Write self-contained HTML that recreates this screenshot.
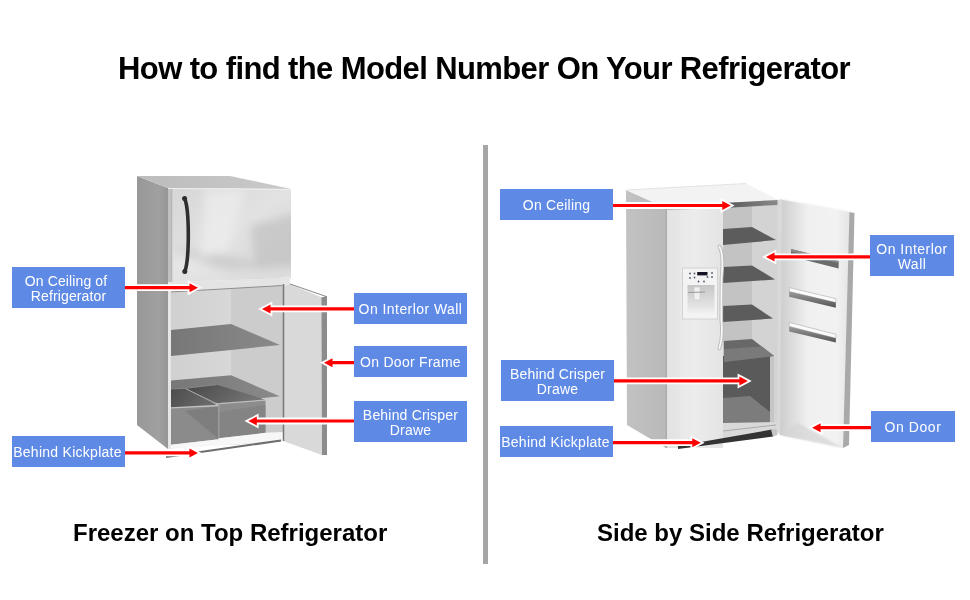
<!DOCTYPE html>
<html><head><meta charset="utf-8">
<style>
html,body{margin:0;padding:0;background:#fff;}
#page{position:relative;width:970px;height:600px;overflow:hidden;background:#fff;font-family:"Liberation Sans",sans-serif;}
svg{position:absolute;left:0;top:0;}
.t{will-change:transform;position:absolute;white-space:nowrap;color:#000;font-weight:bold;}
.box{will-change:transform;position:absolute;background:#5e8ae5;color:#fff;font-size:14px;line-height:15px;text-align:center;display:flex;flex-direction:column;justify-content:center;align-items:center;}
.box span{display:block;white-space:nowrap;}
</style></head><body>
<div id="page">
<svg width="970" height="600" viewBox="0 0 970 600">
<defs>
  <linearGradient id="lside" x1="0" x2="1" y1="0" y2="0"><stop offset="0" stop-color="#989898"/><stop offset="0.7" stop-color="#a0a0a0"/><stop offset="1" stop-color="#969696"/></linearGradient>
  <linearGradient id="ltop" x1="0" x2="1"><stop offset="0" stop-color="#bcbcbc"/><stop offset="1" stop-color="#cacaca"/></linearGradient>
  <linearGradient id="lfz" x1="0" x2="1" y1="0" y2="1"><stop offset="0" stop-color="#d6d6d6"/><stop offset="0.5" stop-color="#e2e2e2"/><stop offset="1" stop-color="#d4d4d4"/></linearGradient>
  <linearGradient id="lback" x1="0" x2="1"><stop offset="0" stop-color="#d0d0d0"/><stop offset="1" stop-color="#dedede"/></linearGradient>
  <linearGradient id="lshelf" x1="0" x2="1"><stop offset="0" stop-color="#777"/><stop offset="1" stop-color="#8a8a8a"/></linearGradient>
  <linearGradient id="rside" x1="0" x2="1"><stop offset="0" stop-color="#c2c2c2"/><stop offset="1" stop-color="#b9b9b9"/></linearGradient>
  <linearGradient id="rdoor" x1="0" x2="1"><stop offset="0" stop-color="#cdcdcd"/><stop offset="0.4" stop-color="#f0f0f0"/><stop offset="0.8" stop-color="#f2f2f2"/><stop offset="1" stop-color="#e4e4e4"/></linearGradient>
  <clipPath id="fzclip"><polygon points="168,188 291,189 291,278 168,282"/></clipPath>
  <filter id="blur3" x="-20%" y="-20%" width="140%" height="140%"><feGaussianBlur stdDeviation="4"/></filter>
  <filter id="blur1" x="-20%" y="-20%" width="140%" height="140%"><feGaussianBlur stdDeviation="1"/></filter>
  <linearGradient id="rbev" x1="0" x2="1"><stop offset="0" stop-color="#e2e2e2"/><stop offset="1" stop-color="#e6e6e6"/></linearGradient>
  <linearGradient id="recess" x1="0" x2="0" y1="0" y2="1"><stop offset="0" stop-color="#c6c6c6"/><stop offset="0.7" stop-color="#e2e2e2"/><stop offset="1" stop-color="#f2f2f2"/></linearGradient>
  <linearGradient id="ceil" x1="0" x2="1"><stop offset="0" stop-color="#555"/><stop offset="1" stop-color="#8a8a8a"/></linearGradient>
  <linearGradient id="fzface" x1="0" x2="1"><stop offset="0" stop-color="#e6e6e6"/><stop offset="0.5" stop-color="#ececec"/><stop offset="1" stop-color="#e4e4e4"/></linearGradient>
  <linearGradient id="dopen1" x1="0" x2="1" y1="0" y2="0.3"><stop offset="0" stop-color="#4c4c4c"/><stop offset="1" stop-color="#6c6c6c"/></linearGradient>
  <linearGradient id="dopen2" x1="0" x2="1" y1="0" y2="0.3"><stop offset="0" stop-color="#474747"/><stop offset="1" stop-color="#747474"/></linearGradient>
  <linearGradient id="bin" x1="0" x2="0" y1="0" y2="1"><stop offset="0" stop-color="#9a9a9a"/><stop offset="1" stop-color="#555555"/></linearGradient>
</defs>

<!-- divider -->
<rect x="483" y="145" width="5" height="419" fill="#a6a6a6"/>

<!-- ===== LEFT FRIDGE ===== -->
<polygon points="137,176 168,188 168,449 137,425" fill="url(#lside)"/>
<polygon points="137,176 230,176 291,189 168,188" fill="url(#ltop)"/>
<polygon points="168,188 291,189 291,278 168,282" fill="url(#lfz)"/>
<g clip-path="url(#fzclip)"><g filter="url(#blur3)">
<polygon points="250,226 300,212 300,282 258,282" fill="#bcbcbc" opacity="0.6"/>
<polygon points="172,246 290,268 290,282 240,282" fill="#c2c2c2" opacity="0.6"/>
<polygon points="205,190 245,190 228,250 200,258" fill="#eeeeee" opacity="0.7"/>
<polygon points="172,258 232,270 172,282" fill="#e8e8e8" opacity="0.7"/>
<polygon points="168,272 300,266 300,282 168,286" fill="#e2e2e2" opacity="0.8"/>
</g></g>
<rect x="168" y="188" width="4" height="94" fill="#c0c0c0"/>
<line x1="171.8" y1="189" x2="171.8" y2="282" stroke="#b0b0b0" stroke-width="0.8"/>
<line x1="168" y1="188.5" x2="291" y2="189.5" stroke="#eeeeee" stroke-width="1"/>
<path d="M184.7,198.5 C187.3,205 188.3,214 188.3,235 C188.3,256 187.3,265 184.8,271.5" stroke="#2e2e2e" stroke-width="3.6" fill="none" stroke-linecap="round"/>
<circle cx="184.6" cy="198.4" r="2.5" fill="#2e2e2e"/><circle cx="184.8" cy="271.4" r="2.5" fill="#2e2e2e"/>
<!-- interior -->
<polygon points="170,292 283,285 283,441 170,448" fill="url(#lback)"/>
<polygon points="231,288 283,285 283,441 231,445" fill="#cccccc"/>
<polygon points="168,282 291,278 283,285 170,292" fill="#e4e4e4"/>
<line x1="170" y1="292" x2="283" y2="285.5" stroke="#8e8e8e" stroke-width="1"/>
<rect x="168" y="290" width="3" height="159" fill="#e6e6e6"/>
<polygon points="171,330 231,324 280,345 171,356" fill="url(#lshelf)"/>
<polygon points="171,380.5 231,375.3 279.8,396.3 171,408" fill="url(#lshelf)"/>
<!-- crisper drawers -->
<polygon points="171,389 185.2,388.4 218.8,406 171,408" fill="url(#dopen1)"/>
<polygon points="185.2,388.4 216.6,384.7 259.9,397.7 265.3,400.3 218.8,403.8" fill="url(#dopen2)"/>
<line x1="185.2" y1="388.4" x2="218.8" y2="405" stroke="#a8a8a8" stroke-width="1"/>
<line x1="171" y1="389" x2="185.2" y2="388.4" stroke="#8a8a8a" stroke-width="0.8"/>
<line x1="185.2" y1="388.4" x2="216.6" y2="384.7" stroke="#8a8a8a" stroke-width="0.8"/>
<polygon points="171,408 218.8,405.7 218.8,439.3 171,444.7" fill="#8b8b8b"/>
<polygon points="185,411 218.8,406 218.8,439.3" fill="#7b7b7b" opacity="0.8"/>
<polygon points="218.8,403.8 265.5,400.3 265.5,432.8 218.8,438.2" fill="#8c8c8c"/>
<polygon points="218.8,412 265.5,405 265.5,432.8 218.8,438.2" fill="#7e7e7e" opacity="0.6"/>
<line x1="171" y1="407.8" x2="218.8" y2="405.5" stroke="#c2c2c2" stroke-width="1.3"/>
<line x1="218.8" y1="403.6" x2="265.5" y2="400.1" stroke="#bcbcbc" stroke-width="1.3"/>
<line x1="218.8" y1="404" x2="218.8" y2="439" stroke="#a2a2a2" stroke-width="1.2"/>
<polygon points="171,444.7 218.8,439.3 218.8,438.2 265.5,432.8 283,432 283,441 171,449" fill="#f7f7f7"/>
<line x1="166" y1="457" x2="281" y2="440.5" stroke="#6e6e6e" stroke-width="2"/>
<!-- open door -->
<polygon points="283,286 289.5,284 322,297.5 322,455 283,441" fill="#d9d9d9"/>
<polygon points="321.5,297.5 327,296 327,455 322,455" fill="#8c8c8c"/>
<line x1="289.5" y1="283.8" x2="326.5" y2="296.6" stroke="#8a8a8a" stroke-width="1"/>
<polygon points="281,277 290,276 290,284 284,286 281,285" fill="#e6e6e6"/>
<line x1="283.5" y1="284" x2="283.5" y2="441" stroke="#777" stroke-width="1.5"/>

<!-- ===== RIGHT FRIDGE ===== -->
<polygon points="626,190 655,203 666,208 666,448 627,425" fill="url(#rside)"/>
<polygon points="626,190 746,183.5 779,200 666,208 655,203" fill="#f3f3f3"/>
<line x1="626" y1="190" x2="746" y2="183.5" stroke="#dddddd" stroke-width="0.8"/>
<polygon points="666,209 723,207 723,448 666,448" fill="url(#fzface)"/>
<polygon points="666,209 680,208.5 680,448 666,448" fill="url(#rbev)"/>
<line x1="666.3" y1="209" x2="666.3" y2="448" stroke="#9c9c9c" stroke-width="1"/>
<line x1="666" y1="209.5" x2="723" y2="207.5" stroke="#b8b8b8" stroke-width="1"/>
<!-- dispenser -->
<rect x="682.5" y="268" width="35" height="51" fill="#f3f3f3" stroke="#d2d2d2" stroke-width="1"/>
<rect x="687.5" y="285" width="27" height="29" fill="url(#recess)"/>
<rect x="697.2" y="272" width="10.3" height="3.4" fill="#141424"/>
<g fill="#555a70"><circle cx="690" cy="273.5" r="0.9"/><circle cx="694.5" cy="273.5" r="0.9"/><circle cx="712" cy="273" r="0.9"/><circle cx="690" cy="278" r="0.9"/><circle cx="694.5" cy="277.5" r="0.9"/><circle cx="707.5" cy="277" r="0.9"/><circle cx="712" cy="277" r="0.9"/><circle cx="698.5" cy="281.5" r="0.9"/><circle cx="704" cy="281.5" r="0.9"/></g>
<rect x="694" y="287" width="6" height="13" fill="#f0f0f0" stroke="#c8c8c8" stroke-width="0.6"/>
<line x1="688" y1="292.5" x2="705" y2="292" stroke="#9a9a9a" stroke-width="1.2"/>
<!-- interior -->
<polygon points="723,203 778,201 778,432 723,440" fill="#c3c3c3"/>
<polygon points="752,202 778,201 778,432 752,436" fill="#d3d3d3"/>
<polygon points="723,203 778,200 778,205 723,208" fill="url(#ceil)"/>
<polygon points="723,229 752,227 776,240 723,245" fill="#5c5c5c"/>
<polygon points="723,267 752,265.5 775,279.5 723,283" fill="#5c5c5c"/>
<polygon points="723,306 752,304.5 773,318.5 723,322" fill="#5c5c5c"/>
<polygon points="723,356 770,355 770,423 723,423" fill="#5a5a5a"/>
<polygon points="723,398 750,396 770,412 770,423 723,423" fill="#7c7c7c"/>
<polygon points="770,355 774,355 774,425 770,425" fill="#c6c6c6"/>
<polygon points="724,341 752,339 774,356 724,362" fill="#686868"/>
<polygon points="724,349 762,346.5 774,356 724,362" fill="#7a7a7a"/>
<polygon points="723,423 778,422 778,432 723,440" fill="#d9d9d9"/>
<line x1="723" y1="431" x2="776" y2="425" stroke="#aaaaaa" stroke-width="1"/>
<!-- handle -->
<path d="M719.3,246.5 C722.8,252 723.2,262 721.5,278 L721.3,320 C722.8,332 721.5,342 719.3,348.5" stroke="#b9b9b9" stroke-width="3.6" fill="none" stroke-linecap="round"/>
<path d="M719.3,246.5 C722.8,252 723.2,262 721.5,278 L721.3,320 C722.8,332 721.5,342 719.3,348.5" stroke="#f7f7f7" stroke-width="1.8" fill="none" stroke-linecap="round"/>
<polygon points="678,446 772,429.5 773,436.5 678,449" fill="#333333"/>
<polygon points="771,429.7 776,429 777.5,431 777.5,435 773,436.5" fill="#c4c4c4"/>
<polygon points="777.5,200 782.5,199 780.5,435.5 777.5,432" fill="#d9d9d9"/>
<!-- open right door -->
<polygon points="782,199 850,211.5 843,448 780,435" fill="url(#rdoor)"/>
<line x1="782" y1="199" x2="850" y2="211.5" stroke="#f8f8f8" stroke-width="1.5"/>
<polygon points="849.5,212 854.5,213 849,445 843,448" fill="#a9a9a9"/>
<g filter="url(#blur1)"><polygon points="780,435 797.6,422.7 843,448" fill="#d4d4d4" opacity="0.7"/></g>
<!-- bins -->
<polygon points="791,249 838.6,261 838.6,268.4 791,256.5" fill="#6a6a6a"/>
<polygon points="791,249 838.6,261 838.6,263 791,251.5" fill="#8a8a8a"/>
<g>
<polygon points="789.2,287.6 835.9,298.6 835.9,302.6 789.2,291.6" fill="#fbfbfb" stroke="#bdbdbd" stroke-width="0.8"/>
<polygon points="789.2,291.6 835.9,302.6 835.9,307.8 789.2,296.8" fill="url(#bin)"/>
<polygon points="789.2,322.4 835.9,334.3 835.9,338.3 789.2,326.4" fill="#fbfbfb" stroke="#bdbdbd" stroke-width="0.8"/>
<polygon points="789.2,326.4 835.9,338.3 835.9,342.6 789.2,331.6" fill="url(#bin)"/>
</g>

<!-- ===== ARROWS ===== -->
<g fill="#ff0000" stroke="#ffffff" stroke-width="3.6" stroke-linejoin="miter" stroke-miterlimit="6" paint-order="stroke">
  <polygon points="125.0,286.1 189.5,286.1 189.5,283.2 198.0,287.7 189.5,292.2 189.5,289.3 125.0,289.3"/>
<polygon points="354.0,307.3 270.5,307.3 270.5,304.4 262.0,308.9 270.5,313.4 270.5,310.5 354.0,310.5"/>
<polygon points="354.0,361.1 332.5,361.1 332.5,358.2 324.0,362.7 332.5,367.2 332.5,364.3 354.0,364.3"/>
<polygon points="354.0,419.4 256.8,419.4 256.8,416.5 248.3,421.0 256.8,425.5 256.8,422.6 354.0,422.6"/>
<polygon points="125.0,451.3 189.4,451.3 189.4,448.4 197.9,452.9 189.4,457.4 189.4,454.5 125.0,454.5"/>
<polygon points="613.0,203.9 722.3,203.9 722.3,201.0 730.8,205.5 722.3,210.0 722.3,207.1 613.0,207.1"/>
<polygon points="870.0,255.3 774.5,255.3 774.5,252.4 766.0,256.9 774.5,261.4 774.5,258.5 870.0,258.5"/>
<polygon points="614.0,379.3 739.4,379.3 739.4,376.4 747.9,380.9 739.4,385.4 739.4,382.5 614.0,382.5"/>
<polygon points="613.0,441.1 692.3,441.1 692.3,438.2 700.8,442.7 692.3,447.2 692.3,444.3 613.0,444.3"/>
<polygon points="871.0,426.1 820.6,426.1 820.6,423.2 812.1,427.7 820.6,432.2 820.6,429.3 871.0,429.3"/>
</g>
</svg>

<div class="t" style="left:-1.5px;top:51.5px;width:970px;text-align:center;font-size:31px;line-height:34px;letter-spacing:-0.61px;">How to find the Model Number On Your Refrigerator</div>
<div class="t" style="left:73px;top:520px;font-size:24px;line-height:26px;">Freezer on Top Refrigerator</div>
<div class="t" style="left:597px;top:520px;font-size:24px;line-height:26px;">Side by Side Refrigerator</div>

<div class="box" style="left:12px;top:267px;width:113px;height:41px;letter-spacing:0.12px;padding-top:2px;box-sizing:border-box;"><span style="padding-right:5px">On Ceiling of</span><span>Refrigerator</span></div>
<div class="box" style="left:12px;top:436px;width:113px;height:31px;letter-spacing:0.27px;padding-top:1px;box-sizing:border-box;"><span style="padding-right:2px">Behind Kickplate</span></div>
<div class="box" style="left:354px;top:293px;width:113px;height:31px;letter-spacing:0.44px;padding-top:1px;box-sizing:border-box;"><span>On Interlor Wall</span></div>
<div class="box" style="left:354px;top:346px;width:113px;height:31px;letter-spacing:0.27px;padding-top:1px;box-sizing:border-box;"><span>On Door Frame</span></div>
<div class="box" style="left:354px;top:401px;width:113px;height:41px;letter-spacing:0.19px;padding-top:2px;box-sizing:border-box;"><span>Behind Crisper</span><span>Drawe</span></div>

<div class="box" style="left:500px;top:189px;width:113px;height:31px;letter-spacing:0.2px;padding-top:1px;box-sizing:border-box;"><span>On Ceiling</span></div>
<div class="box" style="left:501px;top:360px;width:113px;height:41px;letter-spacing:0.17px;padding-top:2px;box-sizing:border-box;"><span>Behind Crisper</span><span>Drawe</span></div>
<div class="box" style="left:500px;top:426px;width:113px;height:31px;letter-spacing:0.27px;padding-top:1px;box-sizing:border-box;"><span style="padding-right:2px">Behind Kickplate</span></div>
<div class="box" style="left:870px;top:235px;width:84px;height:41px;letter-spacing:0.48px;padding-top:2px;box-sizing:border-box;"><span>On Interlor</span><span>Wall</span></div>
<div class="box" style="left:871px;top:411px;width:84px;height:31px;letter-spacing:0.55px;padding-top:1px;box-sizing:border-box;"><span>On Door</span></div>
</div>
</body></html>
